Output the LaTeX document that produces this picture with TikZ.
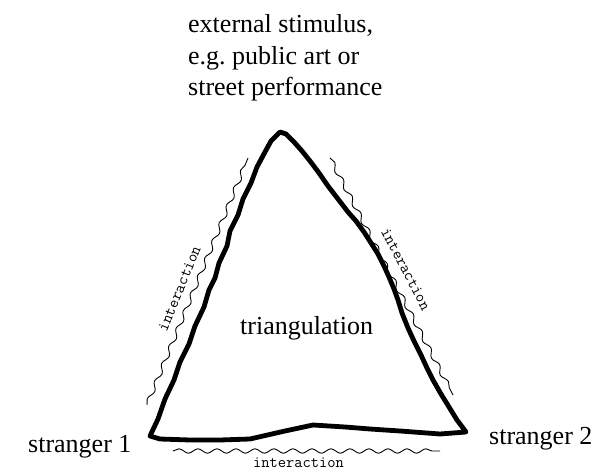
\documentclass[tikz,border=0pt]{standalone}
\usepackage{fontspec}
\setmainfont{Liberation Serif}
\usetikzlibrary{decorations.pathmorphing}
\begin{document}
\begin{tikzpicture}[x=1pt,y=-1pt,
  edgeline/.style={line width=4.8pt,line join=round,line cap=round},
  wavyline/.style={line width=0.9pt,decorate,decoration={snake,amplitude=2.2pt,segment length=19pt}},
  serif/.style={inner sep=0pt,font=\fontsize{26}{31.5}\selectfont},
  monolabel/.style={inner sep=0pt,font=\ttfamily\fontsize{16}{18}\selectfont}]
\useasboundingbox (0,0) rectangle (595,470);
% labels
\node[serif,anchor=base west,align=left] (stim) at (188,96) {external stimulus,\\e.g.\ public art or\\street performance};
\node[serif,anchor=base west] (tri) at (240,335) {triangulation};
\node[serif,anchor=base west] (s1) at (28,453) {stranger 1};
\node[serif,anchor=base west] (s2) at (489,445) {stranger 2};
% triangle corners
\coordinate (bl) at (150,436);
\coordinate (ap) at (280,132);
\coordinate (br) at (466,432);
% hand drawn triangle
\draw[edgeline] (bl) -- (158,419) -- (165,399) -- (174,380) -- (180,362) -- (189,344) -- (195,326) -- (204,307) -- (209,290) -- (215,278) -- (219,263) -- (227,246) -- (230,231) -- (238,215) -- (243,199) -- (251,183) -- (257,167) -- (265,152) -- (271,141) -- (ap)
  -- (286,134) -- (294,142) -- (302,151) -- (310,161) -- (319,173) -- (328,186) -- (338,199) -- (348,212) -- (356,221) -- (364,232) -- (371,243) -- (378,254) -- (384,266) -- (389,277) -- (394,289) -- (398,300) -- (402,313) -- (408,328) -- (414,341) -- (421,355) -- (427,368) -- (433,380) -- (441,394) -- (449,407) -- (457,420) -- (br)
  -- (440,434) -- (400,431) -- (370,429) -- (345,427) -- (313,425) -- (285,431) -- (250,439) -- (220,440) -- (190,440) -- (160,439) -- cycle;
% wavy interaction lines
\coordinate (lw1) at (147,405);
\coordinate (lw2) at (248,158);
\coordinate (rw1) at (330,158);
\coordinate (rw2) at (453,395);
\coordinate (bw1) at (173,451);
\coordinate (bw2) at (440,451);
\draw[wavyline] (lw1) -- (lw2);
\draw[wavyline] (rw1) -- (rw2);
\draw[wavyline] (bw1) -- (bw2);
\path (lw1) -- (lw2) node[monolabel,pos=0.45,sloped,above=9pt] (li) {interaction};
\path (rw1) -- (rw2) node[monolabel,pos=0.5,sloped,above=11pt] (ri) {interaction};
\path (bw1) -- (bw2) node[monolabel,pos=0.47,below=7pt] (bi) {interaction};
\end{tikzpicture}
\end{document}
